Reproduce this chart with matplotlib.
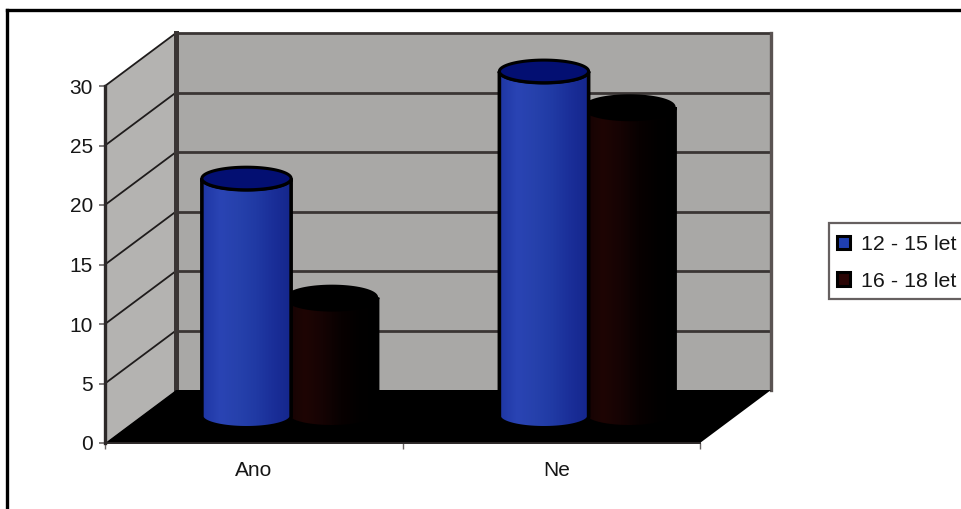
import numpy as np
import matplotlib
matplotlib.use("Agg")
import matplotlib.pyplot as plt
from matplotlib.lines import Line2D
from matplotlib.patches import Polygon, Rectangle
from matplotlib.colors import LinearSegmentedColormap
from matplotlib.transforms import ScaledTranslation

plt.rcParams["font.family"] = ["Liberation Sans", "DejaVu Sans"]

# Survey answers by age group
categories = ["Ano", "Ne"]
series_names = ["12 - 15 let", "16 - 18 let"]
younger = [20, 29]
older = [10, 26]
y_ticks = [0, 5, 10, 15, 20, 25, 30]

W, H = 961, 509
fig = plt.figure(figsize=(W / 100, H / 100), dpi=100, facecolor="white")

# Front plane of the plot box, in pixels from the top-left corner
left, right, top, bottom = 105, 700, 86, 443
ax = fig.add_axes([left / W, 1 - bottom / H, (right - left) / W, (bottom - top) / H])
ax.set_xlim(0, 2)
ax.set_ylim(0, 30)
ax.patch.set_visible(False)

# Oblique depth: one unit of depth shifts a point right and up
DEPTH_X = 71 / 297.5
DEPTH_Y = 53 / 11.9


def oblique(x, v, d):
    return (x + d * DEPTH_X, v + d * DEPTH_Y)


WALL = "#a9a8a6"
LINE = "#3a3534"
FLOOR = "#000000"

# Back and side walls
ax.add_patch(Polygon([oblique(0, 0, 1), oblique(2, 0, 1), oblique(2, 30, 1), oblique(0, 30, 1)],
                     closed=True, fc=WALL, ec="none", clip_on=False, zorder=1))
ax.add_patch(Polygon([oblique(0, 0, 0), oblique(0, 0, 1), oblique(0, 30, 1), oblique(0, 30, 0)],
                     closed=True, fc="#b4b3b1", ec="none", clip_on=False, zorder=1))

# Gridlines running along both walls
for v in y_ticks[1:]:
    a, b, c = oblique(0, v, 0), oblique(0, v, 1), oblique(2, v, 1)
    ax.plot([a[0], b[0]], [a[1], b[1]], color="#1f1c1c", lw=1.3, clip_on=False, zorder=2)
    ax.plot([b[0], c[0]], [b[1], c[1]], color=LINE, lw=2.0, clip_on=False, zorder=2)

# Wall edges
a, b = oblique(0, 0, 1), oblique(0, 30, 1)
ax.plot([a[0], b[0]], [a[1], b[1]], color=LINE, lw=3.6, clip_on=False, zorder=2)
a, b = oblique(2, 0, 1), oblique(2, 30, 1)
ax.plot([a[0], b[0]], [a[1], b[1]], color="#5a5352", lw=2.4, clip_on=False, zorder=2)

# Floor
ax.add_patch(Polygon([oblique(0, 0, 0), oblique(2, 0, 0), oblique(2, 0, 1), oblique(0, 0, 1)],
                     closed=True, fc=FLOOR, ec="none", clip_on=False, zorder=3))

BAR_W = 0.30
STEP = 0.2874
RY = 0.95
younger_cmap = LinearSegmentedColormap.from_list(
    "younger", ["#1e36a4", "#2a44b4", "#2641ac", "#203aa4", "#1a2e98", "#14268c"])
older_cmap = LinearSegmentedColormap.from_list(
    "older", ["#140303", "#1e0504", "#150303", "#080101", "#020000", "#000000"])


def cylinder(cx, value, cmap, cap_color, z, edge_lw):
    """Draw one cylinder standing mid-depth at category position cx."""
    t = np.linspace(0, np.pi, 60)
    base_x, base_y = oblique(cx, 0, 0.5)
    top_x, top_y = oblique(cx, value, 0.5)
    rx = BAR_W / 2
    # Body outline: down the left side, around the lower rim, up the right side
    lower_x = base_x - rx * np.cos(t)
    lower_y = base_y - RY * np.sin(t)
    upper_x = top_x + rx * np.cos(t)
    upper_y = top_y - RY * np.sin(t)
    outline = np.column_stack([np.r_[lower_x, upper_x], np.r_[lower_y, upper_y]])
    ax.add_patch(Polygon(outline, closed=True, fc="none", ec="#000000", lw=edge_lw,
                         clip_on=False, zorder=z + 0.2))
    clip = Polygon(outline, closed=True, transform=ax.transData)
    grad = np.linspace(0, 1, 128).reshape(1, -1)
    im = ax.imshow(grad, cmap=cmap, aspect="auto", zorder=z,
                   extent=[base_x - rx, base_x + rx, base_y - RY, top_y + RY])
    im.set_clip_path(clip)
    im.set_clip_box(fig.bbox)
    # Top cap
    angle = np.linspace(0, 2 * np.pi, 90)
    cap = np.column_stack([top_x + rx * np.cos(angle), top_y + RY * np.sin(angle)])
    ax.add_patch(Polygon(cap, closed=True, fc=cap_color, ec="#000000", lw=2.2,
                         clip_on=False, zorder=z + 0.3))


for i in range(len(categories)):
    center = i + 0.5
    cylinder(center + STEP / 2, older[i], older_cmap, "#000000", 4, 4.0)
    cylinder(center - STEP / 2, younger[i], younger_cmap, "#030f72", 5, 2.6)

ax.set_xlim(0, 2)
ax.set_ylim(0, 30)

# Axes, ticks and labels
for side in ("top", "right"):
    ax.spines[side].set_visible(False)
ax.spines["left"].set_linewidth(2.4)
ax.spines["left"].set_color("#2c2828")
ax.spines["bottom"].set_linewidth(1.4)
ax.spines["bottom"].set_color("#2c2828")
ax.spines["left"].set_zorder(6)
ax.spines["bottom"].set_zorder(6)

ax.set_yticks(y_ticks)
ax.set_xticks([0, 1, 2])
ax.set_xticklabels([])
ax.set_xticks([0.5, 1.5], minor=True)
ax.set_xticklabels(categories, minor=True)
ax.tick_params(axis="y", length=4.3, width=1.2, color="#6a6565", labelsize=15,
               labelcolor="#161616", pad=4.3)
ax.tick_params(axis="x", which="major", length=4, width=1.0, color="#6a6565")
ax.tick_params(axis="x", which="minor", length=0, labelsize=15, labelcolor="#161616", pad=13)

# The "Ne" label sits a little right of its category centre
ne_label = ax.get_xticklabels(minor=True)[1]
ne_label.set_transform(ne_label.get_transform() + ScaledTranslation(5 / 100, 0, fig.dpi_scale_trans))

# Legend box on the right, running off the edge of the figure
fig.add_artist(Rectangle((829 / W, 1 - 299 / H), 150 / W, 76 / H, transform=fig.transFigure,
                         fc="white", ec="#666060", lw=1.6))
handles = [Rectangle((0, 0), 1, 1, fc="#1f3fb0", ec="#000000", lw=2.2),
           Rectangle((0, 0), 1, 1, fc="#2a0505", ec="#000000", lw=2.2)]
leg = fig.legend(handles, series_names, loc="upper left",
                 bbox_to_anchor=(837 / W, 1 - 235 / H), bbox_transform=fig.transFigure,
                 fontsize=15.4, frameon=False, labelcolor="#161616",
                 borderpad=0, borderaxespad=0,
                 handlelength=0.62, handleheight=0.62, handletextpad=0.5,
                 labelspacing=0.82)

# Outer chart border along the top and left
for xs, ys in [((7, 7), (10, 509)), ((7, 961), (10, 10))]:
    fig.add_artist(Line2D([x / W for x in xs], [1 - y / H for y in ys],
                          transform=fig.transFigure, color="#000000", lw=2.4))

fig.savefig("out.png", dpi=100, facecolor="white")
